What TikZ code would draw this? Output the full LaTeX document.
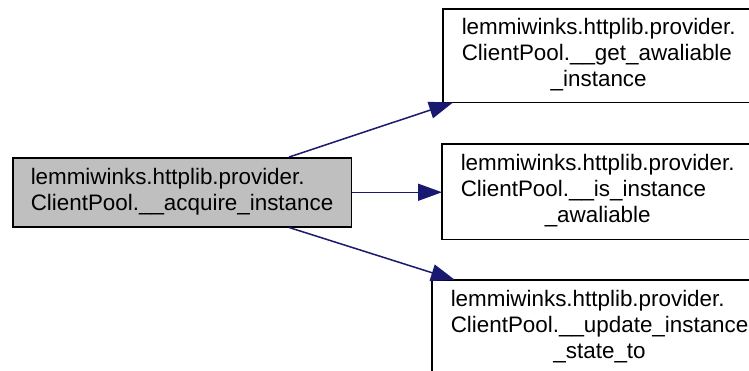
\documentclass[tikz,border=0pt]{standalone}
\usepackage{fontspec}
\setmainfont{Liberation Sans}
\usetikzlibrary{arrows.meta}
\definecolor{edgecol}{HTML}{191970}
\definecolor{mainfill}{HTML}{BFBFBF}
\tikzset{
  box/.style={draw=black, line width=1.5pt, rectangle, anchor=north west,
    inner xsep=18pt, inner ysep=0pt, font=\fontsize{22.4}{26}\selectfont},
  sidebox/.style={box, draw=none, fill=white, minimum width=400pt, text width=364pt},
  frame/.style={draw=black, line width=1.5pt, line join=miter},
  edge/.style={draw=edgecol, line width=1.5pt,
    -{Triangle[length=24pt,width=17pt]}}
}
\begin{document}
\begin{tikzpicture}[x=1pt,y=-1pt]
\useasboundingbox (0,0) rectangle (749,370);
\clip (0,0) rectangle (749,370);
\fill[white] (0,0) rectangle (749,370);
\node[box, fill=mainfill, minimum height=69pt, minimum width=338pt] (main) at (12,157)
  {\begin{tabular}{@{}l@{}}lemmiwinks.httplib.provider.\\ClientPool.\_\_acquire\_instance\end{tabular}};
\node[sidebox, minimum height=92pt] (b1) at (443,9)
  {\begin{tabular}{@{}l@{}}lemmiwinks.httplib.provider.\\ClientPool.\_\_get\_awaliable\\\multicolumn{1}{@{}c@{}}{\_instance}\end{tabular}};
\node[sidebox, minimum height=94pt] (b2) at (442,144)
  {\begin{tabular}{@{}l@{}}lemmiwinks.httplib.provider.\\ClientPool.\_\_is\_instance\\\multicolumn{1}{@{}c@{}}{\_awaliable}\end{tabular}};
\node[sidebox, minimum height=94pt] (b3) at (432,280)
  {\begin{tabular}{@{}l@{}}lemmiwinks.httplib.provider.\\ClientPool.\_\_update\_instance\\\multicolumn{1}{@{}c@{}}{\_state\_to}\end{tabular}};
\foreach \b in {b1,b2,b3}
  \draw[frame] (\b.north east) -- (\b.north west) -- (\b.south west) -- (\b.south east);
\draw[edge] ([xshift=-63pt]main.north east) -- ([xshift=10pt]b1.south west);
\draw[edge] (main.east) -- (main.east -| b2.west);
\draw[edge] ([xshift=-63pt]main.south east) -- ([xshift=23pt]b3.north west);
\end{tikzpicture}
\end{document}
